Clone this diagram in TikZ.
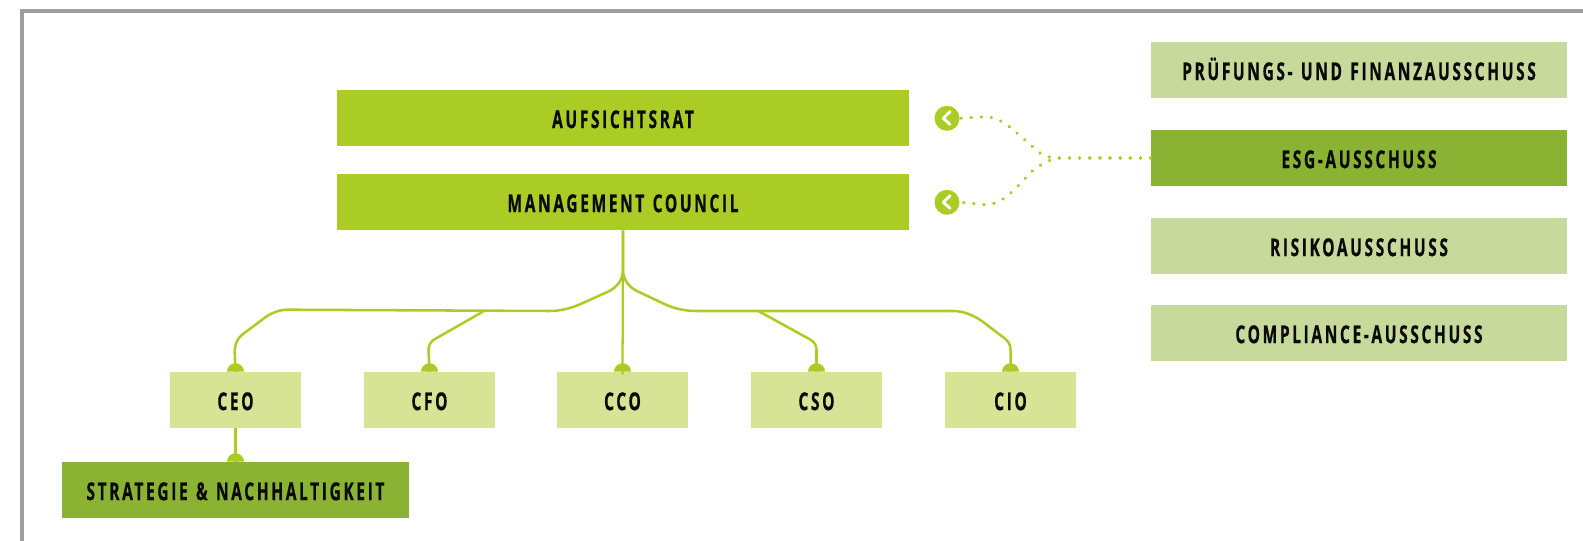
\documentclass[tikz,border=0pt]{standalone}
\usepackage{fontspec}
\setmainfont{Open Sans}[BoldFont={Open Sans Bold},BoldFeatures={FakeBold=0.6},FakeStretch=0.63,LetterSpace=10.6,WordSpace=1.25]
\usetikzlibrary{calc}
\definecolor{lime}{HTML}{ABCC25}
\definecolor{palelime}{HTML}{D7E495}
\definecolor{paleolive}{HTML}{C7D99B}
\definecolor{olive}{HTML}{8AB333}
\definecolor{framegray}{HTML}{9D9D9D}
\definecolor{ink}{HTML}{0A0A0A}
\tikzset{
  x=0.75pt,y=-0.75pt,
  boxbase/.style={inner sep=0pt,minimum height=42pt,text=ink,font=\fontsize{18.5pt}{20pt}\selectfont\bfseries,text height=15.2pt,text depth=0pt},
  mainbox/.style={boxbase,fill=lime,minimum width=429pt},
  sidebox/.style={boxbase,fill=paleolive,minimum width=312pt},
  esgbox/.style={boxbase,fill=olive,minimum width=312pt},
  rolebox/.style={boxbase,fill=palelime,minimum width=98.25pt},
  stratbox/.style={boxbase,fill=olive,minimum width=260.25pt},
  wire/.style={draw=lime,line width=1.9pt},
  dots/.style={draw=lime,line width=2.5pt,line cap=round,dash pattern=on 0.3pt off 7.3pt},
  knob/.style={circle,fill=lime,inner sep=0pt,minimum size=18.75pt},
}
\newcommand{\domeon}[1]{\fill[lime] ($(#1)+(-6.4pt,0pt)$) arc[start angle=180,end angle=0,radius=6.4pt] -- cycle;}
\newcommand{\chevronin}[1]{\draw[white,line width=2.2pt,line cap=round,line join=round] ($(#1)+(3,-6.6)$) -- ($(#1)+(-3.7,0)$) -- ($(#1)+(3,6)$);}
\begin{document}
\begin{tikzpicture}
\useasboundingbox (0,0) rectangle (1583,541);
\draw[framegray,line width=2.4pt] (1583,11) -- (22,11) -- (22,541);

\node[mainbox] (ar) at (623,118) {AUFSICHTSRAT};
\node[mainbox] (mc) at (623,202) {MANAGEMENT COUNCIL};
\node[sidebox] (pf) at (1359,70) {PRÜFUNGS- UND FINANZAUSSCHUSS};
\node[esgbox] (esg) at (1359,158) {ESG-AUSSCHUSS};
\node[sidebox] (ri) at (1359,246) {RISIKOAUSSCHUSS};
\node[sidebox] (co) at (1359,333) {COMPLIANCE-AUSSCHUSS};
\node[rolebox] (ceo) at (235.5,400) {CEO};
\node[rolebox] (cfo) at (429.5,400) {CFO};
\node[rolebox] (cco) at (622.5,400) {CCO};
\node[rolebox] (cso) at (816.5,400) {CSO};
\node[rolebox] (cio) at (1010.5,400) {CIO};
\node[stratbox] (st) at (235.5,490) {STRATEGIE \& NACHHALTIGKEIT};
\node[knob] (k1) at (947,118.3) {};
\node[knob] (k2) at (947,202.3) {};
\chevronin{k1}
\chevronin{k2}

% dotted links
\path[dots] (esg.west) -- (1063,158) .. controls (1052,158) and (1045,157) .. (1040,153) -- (1015.7,132) .. controls (1005,122) and (995,117) .. (985,116.7) -- (k1.east);
\path[dots] (esg.west) -- (1063,158) .. controls (1052,158) and (1044,162) .. (1032,171.3) -- (1013.3,190.7) .. controls (1005,199) and (995,204.7) .. (985.7,204.7) -- (k2.east);

% tree
\path[wire] (mc.south) -- (623,272) .. controls (622,281) and (616,288) .. (608,291.7) -- (580,304.3) .. controls (570,308.5) and (560,311) .. (550,311) -- (287.3,309.7) .. controls (278,309.7) and (269,314) .. (261.7,320) -- (241.7,335) .. controls (237,339) and (234.7,345) .. (234.7,351.7) -- (ceo.north);
\path[wire] (484,311) -- (435,339) .. controls (431,341) and (428.5,345) .. (428.5,350) -- (cfo.north);
\path[wire,line width=1.7pt] (mc.south) -- ($(cco.north)+(0,3)$);
\path[wire] (623,272) .. controls (624,281) and (630,288) .. (638.3,291.7) -- (665,304.3) .. controls (675,309) and (686,311) .. (696.7,311) -- (953.3,311) .. controls (963,311) and (973,315) .. (981.7,321) -- (1003.3,337.3) .. controls (1007.5,341) and (1010.5,343) .. (1010.5,350) -- (cio.north);
\path[wire] (758.3,311) -- (809.3,339) .. controls (814,341.5) and (816.5,345) .. (816.5,350) -- (cso.north);
\path[wire] (ceo.south) -- (st.north);
\domeon{ceo.north}
\domeon{cfo.north}
\domeon{cco.north}
\domeon{cso.north}
\domeon{cio.north}
\domeon{st.north}
\end{tikzpicture}
\end{document}
